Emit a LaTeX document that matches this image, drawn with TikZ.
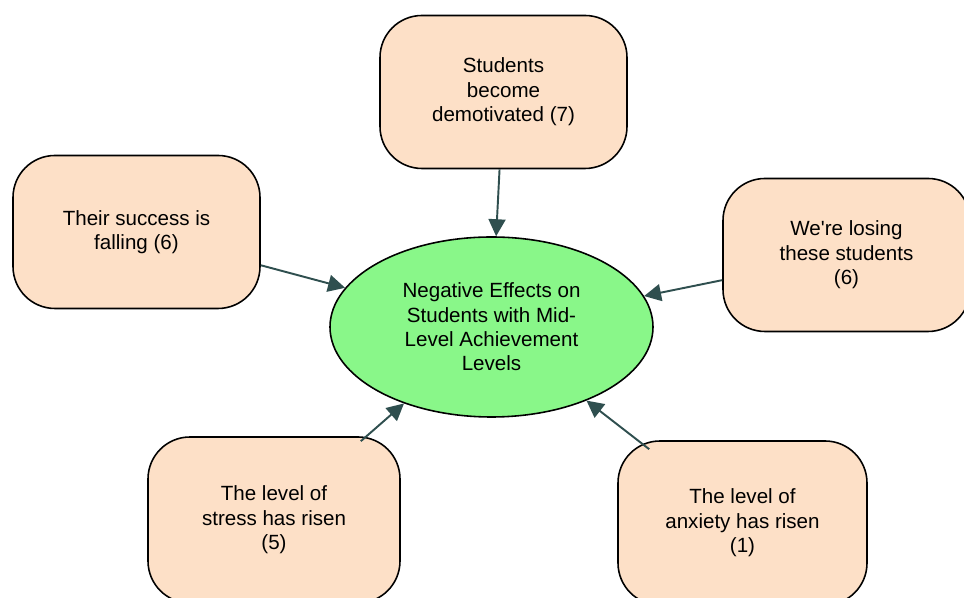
\documentclass[tikz,border=0pt]{standalone}
\usepackage{fontspec}
\setmainfont{Liberation Sans}
\usetikzlibrary{arrows.meta,shapes.geometric}
\definecolor{peach}{RGB}{253,224,199}
\definecolor{mintgreen}{RGB}{137,247,137}
\definecolor{slatearrow}{RGB}{47,79,79}
\begin{document}
\begin{tikzpicture}[
        effect/.style={draw=black, line width=0.9pt, fill=peach, rounded corners=0.84cm,
            align=center, inner sep=0pt, minimum width=4.94cm, minimum height=3.06cm,
            font=\fontsize{11.7}{14}\selectfont},
        hub/.style={draw=black, line width=0.9pt, fill=mintgreen, ellipse, align=center,
            inner sep=0pt, minimum width=6.46cm, minimum height=3.6cm,
            font=\fontsize{11.7}{13.8}\selectfont},
        link/.style={draw=slatearrow, line width=1.1pt, -{Triangle[length=0.34cm, width=0.34cm]}}
    ]
    \useasboundingbox (0,0) rectangle (19.28,11.96);

    \node[hub] (center) at (9.83,5.42) {Negative Effects on\\Students with Mid-\\Level Achievement\\Levels};

    % upper row of effects
    \node[effect] (demotiv) at (10.07,10.12) {Students\\become\\demotivated (7)};
    \node[effect] (success) at (2.73,7.32) {Their success is\\falling (6)};
    \node[effect] (losing) at (16.93,6.86) {We\textquotesingle re losing\\these students\\(6)};

    % lower row of effects
    \node[effect, minimum width=5.04cm, minimum height=3.32cm] (stress) at (5.48,1.56) {The level of\\stress has risen\\(5)};
    \node[effect, minimum width=4.98cm, minimum height=3.28cm] (anxiety) at (14.85,1.50) {The level of\\anxiety has risen\\(1)};

    \draw[link] (demotiv) -- (center);
    \draw[link] (success) -- (center);
    \draw[link] (losing) -- (center);
    % bottom arrows leave from the rounded corners
    \draw[link] ([shift={(-0.8,-0.1)}]stress.north east) -- (center);
    \draw[link] ([shift={(0.64,-0.18)}]anxiety.north west) -- (center);
\end{tikzpicture}
\end{document}
